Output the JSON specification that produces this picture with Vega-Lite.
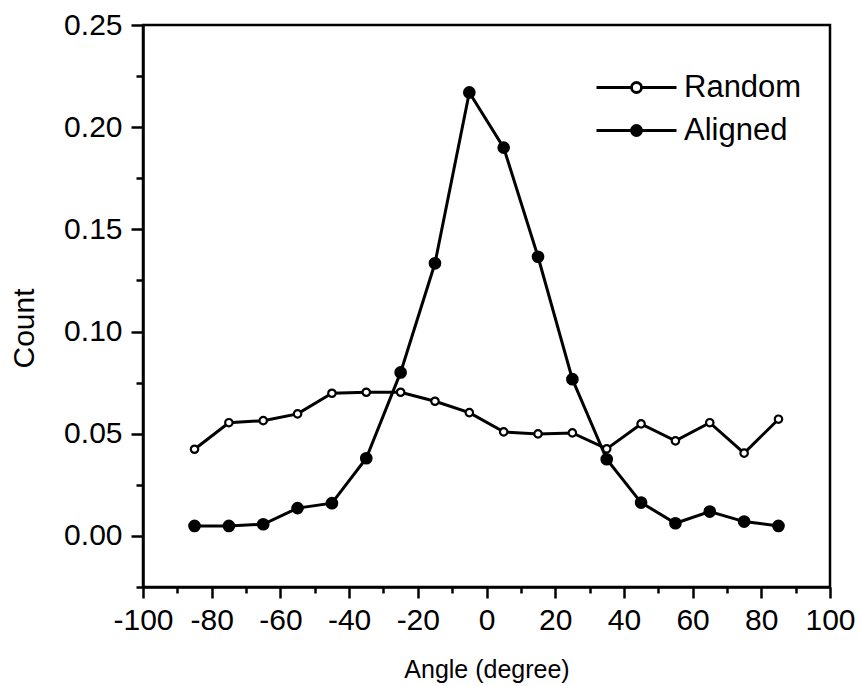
{
  "$schema": "https://vega.github.io/schema/vega-lite/v6.json",
  "width": 687,
  "height": 562,
  "autosize": {"type": "none"},
  "padding": {"left": 143, "top": 25, "right": 30, "bottom": 99},
  "background": "white",
  "config": {
    "view": {"stroke": "black", "strokeWidth": 2.5},
    "font": "Liberation Sans"
  },
  "data": {
    "values": [
      {"angle": -85, "count": 0.0424, "series": "Random"},
      {"angle": -75, "count": 0.0554, "series": "Random"},
      {"angle": -65, "count": 0.0564, "series": "Random"},
      {"angle": -55, "count": 0.0597, "series": "Random"},
      {"angle": -45, "count": 0.0698, "series": "Random"},
      {"angle": -35, "count": 0.0703, "series": "Random"},
      {"angle": -25, "count": 0.0703, "series": "Random"},
      {"angle": -15, "count": 0.0659, "series": "Random"},
      {"angle": -5, "count": 0.0603, "series": "Random"},
      {"angle": 5, "count": 0.0509, "series": "Random"},
      {"angle": 15, "count": 0.0499, "series": "Random"},
      {"angle": 25, "count": 0.0504, "series": "Random"},
      {"angle": 35, "count": 0.0426, "series": "Random"},
      {"angle": 45, "count": 0.0548, "series": "Random"},
      {"angle": 55, "count": 0.0465, "series": "Random"},
      {"angle": 65, "count": 0.0554, "series": "Random"},
      {"angle": 75, "count": 0.0405, "series": "Random"},
      {"angle": 85, "count": 0.0571, "series": "Random"},
      {"angle": -85, "count": 0.0049, "series": "Aligned"},
      {"angle": -75, "count": 0.0049, "series": "Aligned"},
      {"angle": -65, "count": 0.0057, "series": "Aligned"},
      {"angle": -55, "count": 0.0136, "series": "Aligned"},
      {"angle": -45, "count": 0.016, "series": "Aligned"},
      {"angle": -35, "count": 0.038, "series": "Aligned"},
      {"angle": -25, "count": 0.080, "series": "Aligned"},
      {"angle": -15, "count": 0.1334, "series": "Aligned"},
      {"angle": -5, "count": 0.217, "series": "Aligned"},
      {"angle": 5, "count": 0.190, "series": "Aligned"},
      {"angle": 15, "count": 0.1366, "series": "Aligned"},
      {"angle": 25, "count": 0.0767, "series": "Aligned"},
      {"angle": 35, "count": 0.0375, "series": "Aligned"},
      {"angle": 45, "count": 0.0163, "series": "Aligned"},
      {"angle": 55, "count": 0.0062, "series": "Aligned"},
      {"angle": 65, "count": 0.0119, "series": "Aligned"},
      {"angle": 75, "count": 0.007, "series": "Aligned"},
      {"angle": 85, "count": 0.0049, "series": "Aligned"}
    ]
  },
  "encoding": {
    "x": {
      "field": "angle",
      "type": "quantitative",
      "scale": {"domain": [-100, 100], "nice": false, "zero": false},
      "axis": {
        "values": [-100, -90, -80, -70, -60, -50, -40, -30, -20, -10, 0, 10, 20, 30, 40, 50, 60, 70, 80, 90, 100],
        "labelExpr": "datum.value % 20 === 0 ? toString(datum.value) : ''",
        "tickSize": {"condition": {"test": "datum.value % 20 === 0", "value": 11}, "value": 6},
        "tickWidth": 2.5,
        "tickColor": "black",
        "domainWidth": 2.5,
        "domainColor": "black",
        "grid": false,
        "labelFontSize": 30,
        "labelColor": "black",
        "labelFont": "Liberation Sans",
        "labelPadding": 7,
        "labelFlush": false,
        "labelOverlap": false,
        "title": "Angle (degree)",
        "titleFontSize": 25,
        "titleFontWeight": "normal",
        "titleFont": "Liberation Sans",
        "titleColor": "black",
        "titleY": 90,
        "titleBaseline": "alphabetic"
      }
    },
    "y": {
      "field": "count",
      "type": "quantitative",
      "scale": {"domain": [-0.025, 0.25], "nice": false, "zero": false},
      "axis": {
        "values": [-0.025, 0, 0.025, 0.05, 0.075, 0.1, 0.125, 0.15, 0.175, 0.2, 0.225, 0.25],
        "labelExpr": "abs(round(datum.value * 1000)) % 50 === 0 ? format(datum.value, '.2f') : ''",
        "tickSize": {"condition": {"test": "abs(round(datum.value * 1000)) % 50 === 0", "value": 12}, "value": 7},
        "tickWidth": 2.5,
        "tickColor": "black",
        "domainWidth": 2.5,
        "domainColor": "black",
        "grid": false,
        "labelFontSize": 30,
        "labelColor": "black",
        "labelFont": "Liberation Sans",
        "labelPadding": 9,
        "labelFlush": false,
        "labelOverlap": false,
        "title": "Count",
        "titleFontSize": 30,
        "titleFontWeight": "normal",
        "titleFont": "Liberation Sans",
        "titleColor": "black",
        "titleAngle": -90,
        "titleX": -119,
        "titleY": 303,
        "titleAlign": "center",
        "titleBaseline": "middle"
      }
    }
  },
  "layer": [
    {
      "mark": {"type": "line", "stroke": "black", "strokeWidth": 3},
      "encoding": {"detail": {"field": "series", "type": "nominal"}}
    },
    {
      "mark": {"type": "point", "shape": "circle", "filled": true, "stroke": "black", "strokeWidth": 2.2, "opacity": 1},
      "encoding": {
        "fill": {
          "field": "series",
          "type": "nominal",
          "scale": {"domain": ["Random", "Aligned"], "range": ["white", "black"]},
          "legend": {
            "title": null,
            "orient": "none",
            "legendX": 478,
            "legendY": 47,
            "padding": 0,
            "symbolType": "M-4,0H-0.5M0.5,0H4M0.5,0A0.5,0.5,0,1,1,-0.5,0A0.5,0.5,0,1,1,0.5,0Z",
            "symbolSize": 400,
            "symbolStrokeColor": "black",
            "symbolStrokeWidth": 2.8,
            "labelFontSize": 31,
            "labelFont": "Liberation Sans",
            "labelColor": "black",
            "labelOffset": 32,
            "rowPadding": 11
          }
        },
        "size": {"condition": {"test": "datum.series === 'Aligned'", "value": 110}, "value": 55}
      }
    }
  ]
}
